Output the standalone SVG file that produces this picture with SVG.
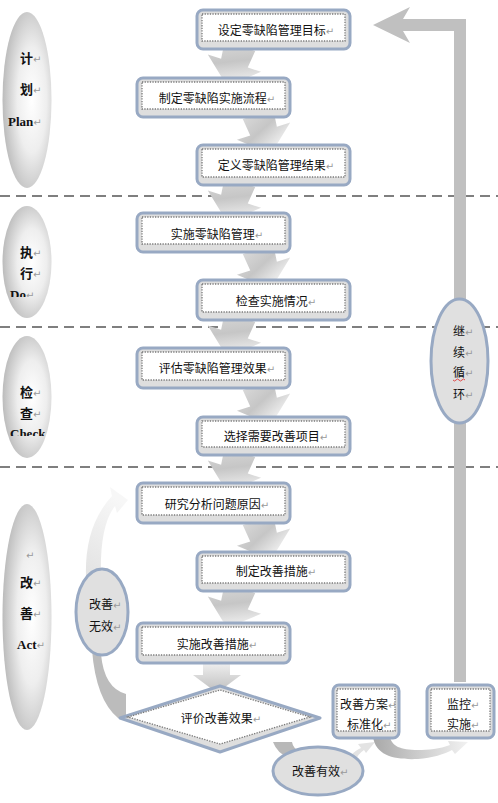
<svg xmlns="http://www.w3.org/2000/svg" width="498" height="803" viewBox="0 0 498 803">
<defs>
<style>
.box{fill:#dedede;stroke:#98a9c3;stroke-width:3}
.inner{fill:#fff;stroke:#7a7a7a;stroke-width:1.3;stroke-dasharray:1.3 1.3}
.bt{font-family:"Noto Sans CJK SC","Noto Sans CJK JP",sans-serif;font-size:12px;fill:#111}
.lt{font-family:"Liberation Serif","Noto Sans CJK SC",serif;font-size:13px;font-weight:bold;fill:#111}
.pm{font-family:"DejaVu Sans",sans-serif;font-size:10px;fill:#9a9a9a;font-weight:normal}
.dash{stroke:#7f7f7f;stroke-width:2;stroke-dasharray:10 6;fill:none}
.oval{fill:#e0e0e0;stroke:#98a9c3;stroke-width:3}
.arr{fill:url(#ag)}
</style>
<radialGradient id="lg" cx="0.6" cy="0.5" r="0.6">
<stop offset="0" stop-color="#ffffff"/>
<stop offset="0.5" stop-color="#eeeeee"/>
<stop offset="1" stop-color="#bbbbbb"/>
</radialGradient>
<linearGradient id="ag" x1="0" y1="0" x2="0.6" y2="1">
<stop offset="0" stop-color="#dcdcdc"/>
<stop offset="0.5" stop-color="#c6c6c6"/>
<stop offset="1" stop-color="#f6f6f6"/>
</linearGradient>
<linearGradient id="up" x1="0" y1="1" x2="0.3" y2="0">
<stop offset="0" stop-color="#e2e2e2"/>
<stop offset="1" stop-color="#f7f7f7"/>
</linearGradient>
<linearGradient id="rg" x1="0" y1="0" x2="1" y2="0">
<stop offset="0" stop-color="#a9a9a9"/>
<stop offset="1" stop-color="#f2f2f2"/>
</linearGradient>
<linearGradient id="dg" x1="0" y1="0" x2="0" y2="1">
<stop offset="0" stop-color="#f2f2f2"/>
<stop offset="1" stop-color="#bdbdbd"/>
</linearGradient>
<polygon id="ah" points="-16,0 16,0 14,18 28,18 0,42 -28,18 -14,18"/>
<clipPath id="cDo"><rect x="0" y="280" width="60" height="17"/></clipPath>
<clipPath id="cCk"><rect x="0" y="420" width="60" height="16"/></clipPath>
</defs>

<rect width="498" height="803" fill="#ffffff"/>

<g id="separators">
<line class="dash" x1="0" y1="196" x2="498" y2="196"/>
<line class="dash" x1="0" y1="327" x2="498" y2="327"/>
<line class="dash" x1="0" y1="467" x2="498" y2="467"/>
</g>

<g id="connectors">
<use href="#ah" class="arr" transform="translate(240,46) rotate(18)"/>
<use href="#ah" class="arr" transform="translate(258,114) rotate(-18)"/>
<use href="#ah" class="arr" transform="translate(240,182) rotate(18)"/>
<use href="#ah" class="arr" transform="translate(258,249) rotate(-18)"/>
<use href="#ah" class="arr" transform="translate(240,317) rotate(18)"/>
<use href="#ah" class="arr" transform="translate(258,385) rotate(-18)"/>
<use href="#ah" class="arr" transform="translate(240,452) rotate(18)"/>
<use href="#ah" class="arr" transform="translate(258,520) rotate(-18)"/>
<use href="#ah" class="arr" transform="translate(240,588) rotate(18)"/>
<polygon fill="url(#dg)" points="203,661 230,661 230,675 241,675 217,693 193,675 203,675"/>
<polygon fill="#c0c0c0" points="373,25 410,7 403,19 466,19 466,682 454,682 454,31 403,31 410,43"/>
<path fill="url(#up)" d="M86,578 C85,545 92,518 112,496 L110,487 L128,500 L117,513 L115,506 C104,520 100,545 101,578 Z"/>
<path fill="#bcbcbc" d="M92,650 Q96,700 118,718 L126,718 L126,694 Q104,688 101,654 Z"/>
<path fill="#b8b8b8" d="M273,742 Q277,753 289,758 L301,752 Q293,749 292,742 Z"/>
<path fill="#e3e3e3" d="M350,756 Q356,750 361,748 L358,744 L375,742 L366,753 L364,750 Q358,754 356,760 Z"/>
<path fill="url(#rg)" d="M373,737 C376,756 395,760 418,759 C432,758 445,754 452,750 L455,754 L468,742 L448,741 L450,745 C440,749 428,750 418,750 C400,750 392,746 390,737 Z"/>
</g>

<g id="phase-plan">
<ellipse cx="27" cy="100" rx="24.5" ry="88" fill="url(#lg)"/>
<text class="lt" x="20" y="63">计<tspan class="pm">↵</tspan></text>
<text class="lt" x="20" y="94">划<tspan class="pm">↵</tspan></text>
<text class="lt" x="8" y="126" font-size="12">Plan<tspan class="pm">↵</tspan></text>
</g>
<g id="phase-do">
<ellipse cx="27" cy="262" rx="24.5" ry="56" fill="url(#lg)"/>
<text class="lt" x="20" y="257">执<tspan class="pm">↵</tspan></text>
<text class="lt" x="20" y="278">行<tspan class="pm">↵</tspan></text>
<text class="lt" x="10" y="299" font-size="12" clip-path="url(#cDo)">Do<tspan class="pm">↵</tspan></text>
</g>
<g id="phase-check">
<ellipse cx="27" cy="397" rx="24.5" ry="61" fill="url(#lg)"/>
<text class="lt" x="20" y="397">检<tspan class="pm">↵</tspan></text>
<text class="lt" x="20" y="418">查<tspan class="pm">↵</tspan></text>
<text class="lt" x="10" y="438" font-size="12" clip-path="url(#cCk)">Check</text>
</g>
<g id="phase-act">
<ellipse cx="27" cy="617" rx="24.5" ry="113" fill="url(#lg)"/>
<text class="pm" x="26" y="559">↵</text>
<text class="lt" x="20" y="587">改<tspan class="pm">↵</tspan></text>
<text class="lt" x="20" y="618">善<tspan class="pm">↵</tspan></text>
<text class="lt" x="17" y="649" font-size="12">Act<tspan class="pm">↵</tspan></text>
</g>

<g id="n1"><rect class="box" x="197" y="10" width="153" height="39" rx="6"/><rect class="inner" x="202" y="14" width="143" height="27"/><text class="bt" x="276" y="35" text-anchor="middle">设定零缺陷管理目标<tspan class="pm">↵</tspan></text></g>
<g id="n2"><rect class="box" x="137" y="78" width="153" height="39" rx="6"/><rect class="inner" x="142" y="82" width="143" height="27"/><text class="bt" x="217" y="103" text-anchor="middle">制定零缺陷实施流程<tspan class="pm">↵</tspan></text></g>
<g id="n3"><rect class="box" x="197" y="145" width="153" height="40" rx="6"/><rect class="inner" x="202" y="149" width="143" height="28"/><text class="bt" x="276" y="170" text-anchor="middle">定义零缺陷管理结果<tspan class="pm">↵</tspan></text></g>
<g id="n4"><rect class="box" x="137" y="213" width="153" height="39" rx="6"/><rect class="inner" x="142" y="217" width="143" height="27"/><text class="bt" x="217" y="239" text-anchor="middle">实施零缺陷管理<tspan class="pm">↵</tspan></text></g>
<g id="n5"><rect class="box" x="197" y="280" width="153" height="40" rx="6"/><rect class="inner" x="202" y="284" width="143" height="28"/><text class="bt" x="276" y="306" text-anchor="middle">检查实施情况<tspan class="pm">↵</tspan></text></g>
<g id="n6"><rect class="box" x="137" y="348" width="153" height="40" rx="6"/><rect class="inner" x="142" y="352" width="143" height="28"/><text class="bt" x="217" y="373" text-anchor="middle">评估零缺陷管理效果<tspan class="pm">↵</tspan></text></g>
<g id="n7"><rect class="box" x="197" y="417" width="153" height="38" rx="6"/><rect class="inner" x="202" y="421" width="143" height="26"/><text class="bt" x="276" y="441" text-anchor="middle">选择需要改善项目<tspan class="pm">↵</tspan></text></g>
<g id="n8"><rect class="box" x="137" y="483" width="153" height="40" rx="6"/><rect class="inner" x="142" y="487" width="143" height="28"/><text class="bt" x="217" y="509" text-anchor="middle">研究分析问题原因<tspan class="pm">↵</tspan></text></g>
<g id="n9"><rect class="box" x="197" y="552" width="153" height="39" rx="6"/><rect class="inner" x="202" y="556" width="143" height="27"/><text class="bt" x="276" y="576" text-anchor="middle">制定改善措施<tspan class="pm">↵</tspan></text></g>
<g id="n10"><rect class="box" x="137" y="623" width="153" height="40" rx="6"/><rect class="inner" x="142" y="627" width="143" height="28"/><text class="bt" x="217" y="649" text-anchor="middle">实施改善措施<tspan class="pm">↵</tspan></text></g>

<g id="n-eval">
<polygon points="120,718 220,686 320,718 220,752" fill="#dedede" stroke="#98a9c3" stroke-width="3" stroke-linejoin="round"/>
<polygon class="inner" points="128,717 220,690 310,717 220,744"/>
<text class="bt" x="221" y="723" text-anchor="middle">评价改善效果<tspan class="pm">↵</tspan></text>
</g>

<g id="n-std">
<rect class="box" x="333" y="685" width="66" height="53" rx="6"/>
<rect class="inner" x="337" y="689" width="58" height="42"/>
<text class="bt" x="340" y="709">改善方案<tspan class="pm">↵</tspan></text>
<text class="bt" x="347" y="729">标准化<tspan class="pm">↵</tspan></text>
</g>
<g id="n-monitor">
<rect class="box" x="427" y="685" width="67" height="53" rx="6"/>
<rect class="inner" x="431" y="689" width="59" height="42"/>
<text class="bt" x="447" y="709">监控<tspan class="pm">↵</tspan></text>
<text class="bt" x="447" y="729">实施<tspan class="pm">↵</tspan></text>
</g>

<g id="n-effective">
<ellipse class="oval" cx="318" cy="771" rx="45" ry="24"/>
<text class="bt" x="292" y="776">改善有效<tspan class="pm">↵</tspan></text>
</g>
<g id="n-ineffective">
<ellipse class="oval" cx="102" cy="612" rx="26" ry="43"/>
<text class="bt" x="89" y="609">改善<tspan class="pm">↵</tspan></text>
<text class="bt" x="89" y="631">无效<tspan class="pm">↵</tspan></text>
</g>
<g id="n-continue">
<ellipse class="oval" cx="459.5" cy="361" rx="28.5" ry="62"/>
<text class="bt" x="453" y="336">继<tspan class="pm">↵</tspan></text>
<text class="bt" x="453" y="357">续<tspan class="pm">↵</tspan></text>
<text class="bt" x="453" y="377">循<tspan class="pm">↵</tspan></text>
<text class="bt" x="453" y="399">环<tspan class="pm">↵</tspan></text>
<path d="M453,380 q1.5,2 3,0 t3,0 t3,0 t3,0" fill="none" stroke="#e02020" stroke-width="0.8"/>
</g>
</svg>
